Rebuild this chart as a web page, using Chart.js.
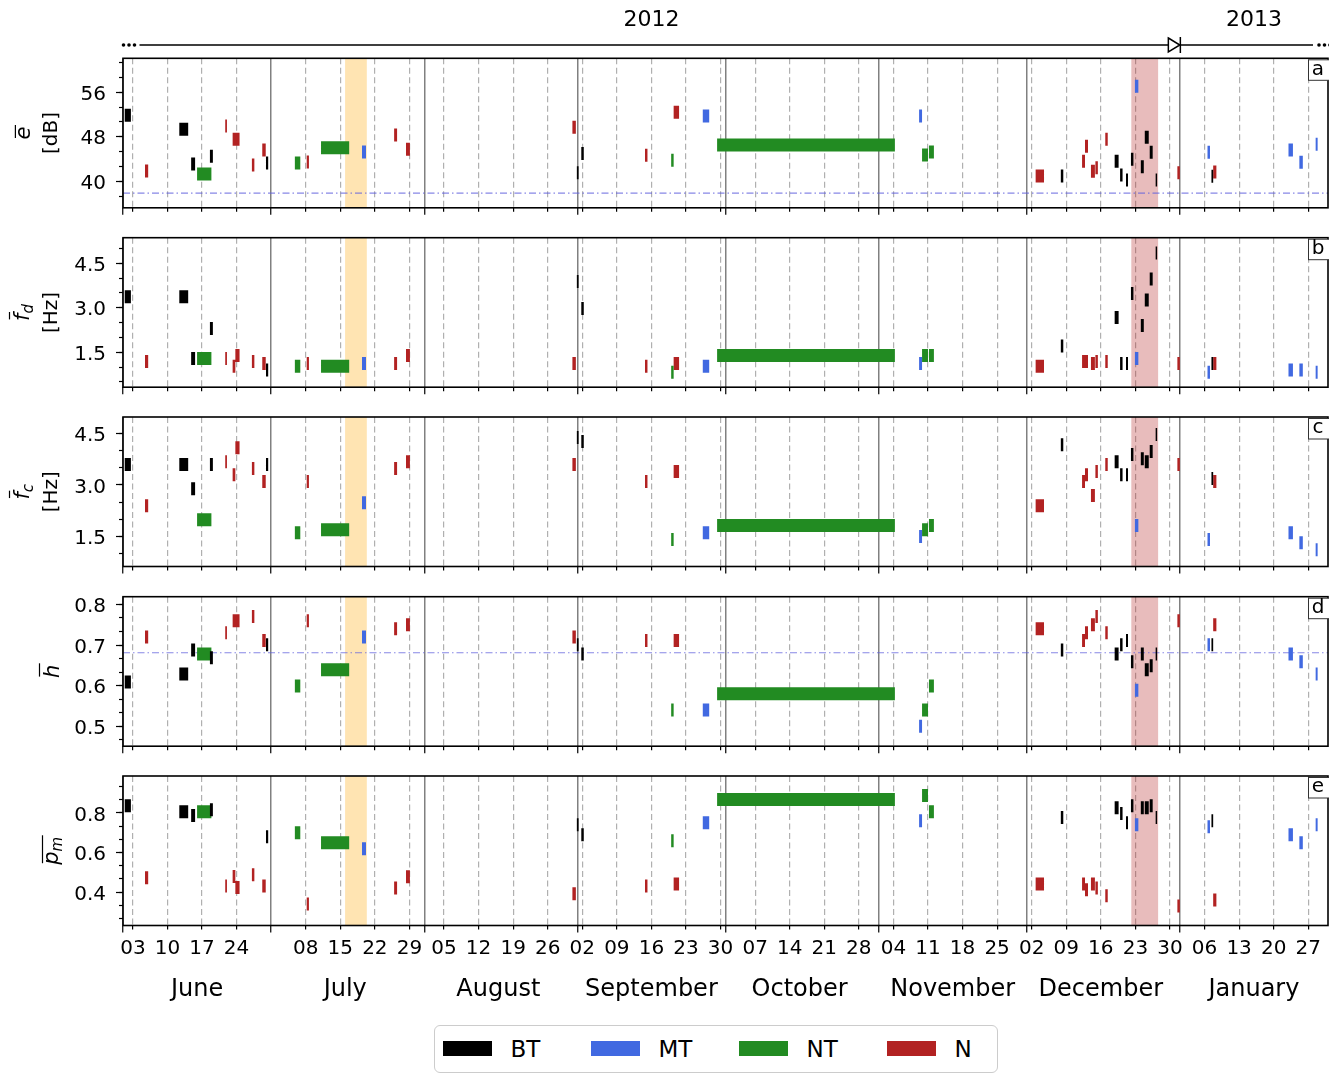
<!DOCTYPE html>
<html>
<head>
<meta charset="utf-8">
<script src="https://cdn.jsdelivr.net/npm/chart.js@4.4.1/dist/chart.umd.min.js"></script>
<style>
  body { margin:0; background:#fff; width:1329px; height:1074px; position:relative; overflow:hidden; font-family:"DejaVu Sans"; }
  canvas { position:absolute; left:0; }
  #legend { position:absolute; left:434px; top:1025px; width:564px; height:48px; box-sizing:border-box;
            border:1.5px solid #cccccc; border-radius:6px; background:#fff; }
  .item { position:absolute; top:0; height:45px; display:flex; align-items:center; font-size:23px; color:#000; }
  .sw { width:49px; height:15px; margin-right:19px; }
</style>
</head>
<body>
<canvas id="pa" width="1329" height="250" style="top:0px"></canvas>
<canvas id="pb" width="1329" height="215" style="top:207px"></canvas>
<canvas id="pc" width="1329" height="215" style="top:387px"></canvas>
<canvas id="pd" width="1329" height="215" style="top:566px"></canvas>
<canvas id="pe" width="1329" height="278" style="top:746px"></canvas>
<div id="legend"></div>
<script>
// days counted from 2012-06-01
const xMin = 0, xMax = 244;
const monthStarts = [0, 30, 61, 92, 122, 153, 183, 214];
const monthMids = [15, 45, 76, 107, 137, 168, 198, 229];
const monthNames = ['June', 'July', 'August', 'September', 'October', 'November', 'December', 'January'];
const weekDays = [2, 9, 16, 23, 37, 44, 51, 58, 65, 72, 79, 86, 93, 100, 107, 114, 121, 128, 135, 142, 149,
                  156, 163, 170, 177, 184, 191, 198, 205, 212, 219, 226, 233, 240];
const weekLabels = ['03', '10', '17', '24', '08', '15', '22', '29', '05', '12', '19', '26', '02', '09', '16', '23', '30',
                    '07', '14', '21', '28', '04', '11', '18', '25', '02', '09', '16', '23', '30', '06', '13', '20', '27'];
const yearLabels = ['2012', '2013'];
const yearMids = [107, 229];
const yearBreak = 214;
const bandStart = [44.97, 204.17];
const bandEnd = [49.37, 209.6];

const categories = ['BT', 'MT', 'NT', 'N'];

// recording periods
const evStart = [0.35, 4.45, 11.4, 13.8, 15.0, 17.6, 20.7, 22.2, 22.75, 26.1, 28.2, 28.95, 34.8, 37.2, 40.1, 48.4,
  54.9, 57.3, 91.0, 91.9, 92.8, 105.7, 111.0, 111.5, 117.4, 120.3, 161.2, 161.8, 163.2, 184.8, 189.9, 194.2, 194.8,
  196.0, 196.9, 198.9, 200.8, 201.9, 203.1, 204.1, 204.9, 206.1, 206.9, 207.9, 209.1, 213.5, 219.6, 220.4, 220.75,
  236.0, 238.2, 241.5];
const evEnd = [1.6, 5.1, 13.2, 14.6, 17.9, 18.2, 21.05, 22.75, 23.6, 26.6, 28.9, 29.4, 35.9, 37.65, 45.8, 49.2,
  55.5, 58.1, 91.7, 92.25, 93.3, 106.2, 111.5, 112.6, 118.7, 156.3, 161.8, 163.0, 164.2, 186.5, 190.4, 194.8, 195.4,
  196.8, 197.4, 199.4, 201.6, 202.4, 203.5, 204.6, 205.6, 206.7, 207.7, 208.5, 209.4, 214.0, 220.1, 220.75, 221.4,
  236.9, 238.9, 241.9];
const evType = ['BT', 'N', 'BT', 'BT', 'NT', 'BT', 'N', 'N', 'N', 'N', 'N', 'BT', 'NT', 'N', 'NT', 'MT',
  'N', 'N', 'N', 'BT', 'BT', 'N', 'NT', 'N', 'MT', 'NT', 'MT', 'NT', 'NT', 'N', 'BT', 'N', 'N',
  'N', 'N', 'N', 'BT', 'BT', 'BT', 'BT', 'MT', 'BT', 'BT', 'BT', 'BT', 'N', 'MT', 'BT', 'N',
  'MT', 'MT', 'MT'];

const eVals = [51.85, 41.85, 49.34, 43.1, 41.3, 44.5, 49.9, 47.55, 47.55, 42.9, 45.6, 43.25, 43.25, 43.45, 46.0, 45.25,
  48.3, 45.75, 49.7, 41.5, 45.0, 44.65, 43.75, 52.4, 51.7, 46.5, 51.7, 44.7, 45.25, 40.95, 40.95, 43.6, 46.3,
  41.8, 42.4, 47.55, 43.6, 41.1, 40.2, 43.95, 57.05, 42.6, 47.9, 45.2, 40.2, 41.5, 45.2, 40.9, 41.65,
  45.6, 43.4, 46.65];
const fdVals = [3.37, 1.19, 3.37, 1.29, 1.29, 2.30, 1.29, 1.03, 1.39, 1.19, 1.12, 0.90, 1.03, 1.12, 1.03, 1.12,
  1.12, 1.39, 1.12, 3.89, 2.98, 1.03, 0.82, 1.12, 1.03, 1.39, 1.12, 1.39, 1.39, 1.03, 1.71, 1.19, 1.19,
  1.12, 1.19, 1.19, 2.67, 1.12, 1.12, 3.48, 1.29, 2.40, 3.26, 3.97, 4.85, 1.12, 0.82, 1.12, 1.12,
  0.90, 0.90, 0.82];
const fcVals = [3.60, 2.39, 3.60, 2.89, 1.98, 3.60, 3.68, 3.30, 4.09, 3.48, 3.10, 3.60, 1.60, 3.10, 1.69, 2.48,
  3.48, 3.68, 3.60, 4.39, 4.27, 3.10, 1.40, 3.39, 1.60, 1.81, 1.49, 1.69, 1.81, 2.39, 4.18, 3.10, 3.30,
  2.69, 3.39, 3.60, 3.68, 3.30, 3.30, 3.89, 1.81, 3.77, 3.68, 3.98, 4.48, 3.60, 1.40, 3.19, 3.10,
  1.60, 1.31, 1.10];
const hVals = [0.609, 0.720, 0.629, 0.688, 0.678, 0.669, 0.730, 0.760, 0.760, 0.770, 0.711, 0.701, 0.599, 0.760, 0.639, 0.720,
  0.740, 0.750, 0.720, 0.701, 0.678, 0.711, 0.540, 0.711, 0.540, 0.580, 0.500, 0.540, 0.599, 0.740, 0.688, 0.711, 0.730,
  0.750, 0.770, 0.730, 0.678, 0.701, 0.711, 0.659, 0.589, 0.678, 0.639, 0.649, 0.678, 0.760, 0.701, 0.701, 0.750,
  0.678, 0.659, 0.629];
const pmVals = [0.836, 0.472, 0.806, 0.786, 0.806, 0.816, 0.431, 0.478, 0.423, 0.487, 0.431, 0.679, 0.700, 0.340, 0.649, 0.619,
  0.421, 0.477, 0.391, 0.740, 0.689, 0.431, 0.659, 0.441, 0.750, 0.867, 0.760, 0.887, 0.806, 0.441, 0.776, 0.441, 0.411,
  0.441, 0.421, 0.381, 0.826, 0.796, 0.750, 0.836, 0.740, 0.826, 0.826, 0.836, 0.776, 0.330, 0.730, 0.760, 0.360,
  0.689, 0.649, 0.740];

const eRef = 37.85;
const hRef = 0.681;

const typeColor = { BT: '#000000', MT: '#4169e1', NT: '#228b22', N: '#b22222' };
const bandColor = ['rgba(255,165,0,0.3)', 'rgba(178,34,34,0.3)'];

Chart.defaults.font.family = '"DejaVu Sans"';
Chart.defaults.font.size = 20;
Chart.defaults.color = '#000';

function segs(vals, type) {
  const pts = [];
  evType.forEach((t, i) => {
    if (t !== type || vals[i] == null) return;
    pts.push({x: evStart[i], y: vals[i]}, {x: evEnd[i], y: vals[i]}, {x: evEnd[i], y: null});
  });
  return pts;
}

function drawSym(ctx, bx, cy, sym, sub, overAll) {
  ctx.save();
  ctx.translate(bx, cy);
  ctx.rotate(-Math.PI / 2);
  ctx.textBaseline = 'alphabetic';
  ctx.textAlign = 'left';
  ctx.fillStyle = '#000';
  const big = 'italic 21px "DejaVu Sans"', small = 'italic 15px "DejaVu Sans"';
  ctx.font = big;
  const m = ctx.measureText(sym);
  ctx.font = small;
  const ws = sub ? ctx.measureText(sub).width : 0;
  const total = m.width + ws;
  const x0 = -total / 2;
  ctx.font = big;
  ctx.fillText(sym, x0, 0);
  if (sub) { ctx.font = small; ctx.fillText(sub, x0 + m.width, 4.5); }
  const oy = -m.actualBoundingBoxAscent - 3;
  ctx.strokeStyle = '#000';
  ctx.lineWidth = 1.2;
  ctx.beginPath();
  ctx.moveTo(x0 + 1.5, oy);
  ctx.lineTo(x0 + (overAll ? total : m.width) + 1.5, oy);
  ctx.stroke();
  ctx.restore();
}

function drawTimeline(chart) {
  const {ctx, chartArea: a, scales: {x}} = chart;
  const y = a.top - 13.3;
  const tip = x.getPixelForValue(yearBreak);
  ctx.save();
  ctx.strokeStyle = '#000';
  ctx.fillStyle = '#000';
  ctx.lineWidth = 1.5;
  [a.left + 0.5, a.left + 6, a.left + 11.5, a.right - 9, a.right - 3.5, a.right + 2].forEach(cx => {
    ctx.beginPath(); ctx.arc(cx, y, 1.8, 0, 2 * Math.PI); ctx.fill();
  });
  ctx.beginPath();
  ctx.moveTo(a.left + 16.5, y); ctx.lineTo(tip - 11.5, y);
  ctx.moveTo(tip, y); ctx.lineTo(a.right - 15, y);
  ctx.stroke();
  ctx.beginPath();
  ctx.moveTo(tip - 11.5, y - 7); ctx.lineTo(tip, y); ctx.lineTo(tip - 11.5, y + 7); ctx.closePath();
  ctx.fillStyle = '#fff'; ctx.fill(); ctx.stroke();
  ctx.beginPath(); ctx.moveTo(tip + 0.5, y - 8); ctx.lineTo(tip + 0.5, y + 8); ctx.stroke();
  ctx.fillStyle = '#000';
  ctx.font = '22px "DejaVu Sans"';
  ctx.textAlign = 'center';
  ctx.textBaseline = 'middle';
  yearLabels.forEach((t, i) => ctx.fillText(t, x.getPixelForValue(yearMids[i]), a.top - 38));
  ctx.restore();
}

function deco(p) {
  return {
    id: 'deco',
    beforeDatasetsDraw(chart) {
      const {ctx, chartArea: a, scales: {x}} = chart;
      ctx.save();
      bandStart.forEach((s, i) => {
        const x0 = x.getPixelForValue(s), x1 = x.getPixelForValue(bandEnd[i]);
        ctx.fillStyle = bandColor[i];
        ctx.fillRect(x0, a.top, x1 - x0, a.bottom - a.top);
      });
      ctx.restore();
    },
    afterDatasetsDraw(chart) {
      const {ctx, chartArea: a} = chart;
      ctx.save();
      ctx.strokeStyle = '#000';
      ctx.lineWidth = 1.6;
      ctx.strokeRect(a.left, a.top, a.right - a.left, a.bottom - a.top);
      // panel letter
      ctx.fillStyle = '#fff';
      ctx.strokeStyle = '#333';
      ctx.lineWidth = 1;
      ctx.fillRect(a.right - 19.5, a.top + 1.5, 30, 20.5);
      ctx.strokeRect(a.right - 19.5, a.top + 1.5, 30, 20.5);
      ctx.fillStyle = '#000';
      ctx.font = '20px "DejaVu Sans"';
      ctx.textAlign = 'center';
      ctx.textBaseline = 'middle';
      ctx.fillText(p.letter, a.right - 10, a.top + 11);
      ctx.restore();
    },
    afterDraw(chart) {
      const {ctx, chartArea: a} = chart;
      const cy = (a.top + a.bottom) / 2;
      drawSym(ctx, p.symX, cy, p.sym, p.sub, p.over);
      if (p.unit) {
        ctx.save();
        ctx.translate(p.unitX, cy);
        ctx.rotate(-Math.PI / 2);
        ctx.font = '20px "DejaVu Sans"';
        ctx.fillStyle = '#000';
        ctx.textAlign = 'center';
        ctx.textBaseline = 'alphabetic';
        ctx.fillText(p.unit, 0, 0);
        ctx.restore();
      }
      if (p.timeline) drawTimeline(chart);
    }
  };
}

function setTicks(list) {
  return s => { s.ticks = list.map(v => ({value: v})); };
}

function panel(id, p) {
  const datasets = categories.map(c => ({
    label: c,
    data: segs(p.vals, c),
    borderColor: typeColor[c],
    backgroundColor: typeColor[c],
    borderWidth: 13,
    borderCapStyle: 'butt',
    pointRadius: 0,
    spanGaps: false,
    fill: false,
    xAxisID: 'x',
    yAxisID: 'y'
  }));
  if (p.ref != null) {
    datasets.push({
      label: 'ref',
      data: [{x: xMin, y: p.ref}, {x: xMax, y: p.ref}],
      borderColor: 'rgba(95,95,220,0.75)',
      borderWidth: 1.2,
      borderDash: [7, 3, 1.5, 3],
      pointRadius: 0,
      fill: false,
      order: 10,
      xAxisID: 'x',
      yAxisID: 'y'
    });
  }
  const labelH = p.bottom ? 40 : 0;
  const scales = {
    x: {
      type: 'linear', axis: 'x', position: 'bottom', min: xMin, max: xMax, weight: 1,
      afterBuildTicks: setTicks(weekDays),
      afterFit: s => { s.height = labelH; },
      ticks: { display: !!p.bottom, autoSkip: false, maxRotation: 0, padding: 7,
               font: { size: 20 }, callback: (v, i) => weekLabels[i] },
      grid: { color: '#b0b0b0', lineWidth: 1.2, tickLength: 4, tickColor: '#000', tickWidth: 1.2 },
      border: { display: false, dash: [6, 3.5] }
    },
    xm: {
      type: 'linear', axis: 'x', position: 'bottom', min: xMin, max: xMax, weight: 0,
      afterBuildTicks: setTicks(monthStarts),
      afterFit: s => { s.height = 0; },
      ticks: { display: false, autoSkip: false },
      grid: { color: '#808080', lineWidth: 1.5, tickLength: 7, tickColor: '#000', tickWidth: 1.2 },
      border: { display: false }
    },
    y: {
      type: 'linear', axis: 'y', position: 'left', min: p.min, max: p.max, weight: 1,
      afterBuildTicks: setTicks(p.major),
      afterFit: s => { s.width = 123; },
      ticks: { autoSkip: false, padding: 10, labelOffset: 2.5, font: { size: 20 }, callback: v => v.toFixed(p.dec) },
      grid: { drawOnChartArea: false, tickLength: 7, tickColor: '#000', tickWidth: 1.2 },
      border: { display: false }
    },
    ym: {
      type: 'linear', axis: 'y', position: 'left', min: p.min, max: p.max, weight: 0,
      afterBuildTicks: setTicks(p.minor),
      afterFit: s => { s.width = 0; },
      ticks: { display: false, autoSkip: false },
      grid: { drawOnChartArea: false, tickLength: 4, tickColor: '#000', tickWidth: 1.2 },
      border: { display: false }
    }
  };
  if (p.bottom) {
    scales.xl = {
      type: 'linear', axis: 'x', position: 'bottom', min: xMin, max: xMax, weight: 2,
      afterBuildTicks: setTicks(monthMids),
      afterFit: s => { s.height = 40; },
      ticks: { autoSkip: false, maxRotation: 0, padding: 10, font: { size: 24 }, callback: (v, i) => monthNames[i] },
      grid: { display: false, drawTicks: false },
      border: { display: false }
    };
  }
  const canvas = document.getElementById(id);
  const axesH = p.bottom ? 80 : 0;
  return new Chart(canvas, {
    type: 'line',
    data: { datasets },
    options: {
      responsive: false,
      devicePixelRatio: 1,
      animation: false,
      events: [],
      layout: { autoPadding: false,
                padding: { top: p.padTop, bottom: canvas.height - p.padTop - 149.5 - axesH, left: 0, right: 1 } },
      plugins: { legend: { display: false }, tooltip: { enabled: false } },
      scales
    },
    plugins: [deco(p)]
  });
}

panel('pa', { vals: eVals, ref: eRef, min: 35.22, max: 62.09, major: [40, 48, 56],
  minor: [37.333, 40, 42.667, 45.333, 48, 50.667, 53.333, 56, 58.667, 61.333], dec: 0,
  padTop: 58.3, letter: 'a', sym: 'e', sub: '', symX: 30.4, unit: '[dB]', unitX: 56.5, timeline: true });
panel('pb', { vals: fdVals, min: 0.319, max: 5.366, major: [1.5, 3.0, 4.5],
  minor: [0.5, 1.0, 1.5, 2.0, 2.5, 3.0, 3.5, 4.0, 4.5, 5.0], dec: 1,
  padTop: 30.7, letter: 'b', sym: 'f', sub: 'd', symX: 28.5, unit: '[Hz]', unitX: 56.5 });
panel('pc', { vals: fcVals, min: 0.611, max: 4.99, major: [1.5, 3.0, 4.5],
  minor: [1.0, 1.5, 2.0, 2.5, 3.0, 3.5, 4.0, 4.5], dec: 1,
  padTop: 30, letter: 'c', sym: 'f', sub: 'c', symX: 28.5, unit: '[Hz]', unitX: 56.5 });
panel('pd', { vals: hVals, ref: hRef, min: 0.451, max: 0.819, major: [0.5, 0.6, 0.7, 0.8],
  minor: [0.4667, 0.5, 0.5333, 0.5667, 0.6, 0.6333, 0.6667, 0.7, 0.7333, 0.7667, 0.8], dec: 1,
  padTop: 30.7, letter: 'd', sym: 'h', sub: '', symX: 58.5 });
panel('pe', { vals: pmVals, min: 0.231, max: 0.986, major: [0.4, 0.6, 0.8],
  minor: [0.2667, 0.3333, 0.4, 0.4667, 0.5333, 0.6, 0.6667, 0.7333, 0.8, 0.8667, 0.9333], dec: 1,
  padTop: 30, letter: 'e', sym: 'p', sub: 'm', over: true, symX: 57.5, bottom: true });

// legend
const legend = document.getElementById('legend');
categories.forEach((c, i) => {
  const it = document.createElement('div');
  it.className = 'item';
  it.style.left = (7.5 + i * 148) + 'px';
  const sw = document.createElement('div');
  sw.className = 'sw';
  sw.style.background = typeColor[c];
  const tx = document.createElement('span');
  tx.textContent = c;
  it.appendChild(sw);
  it.appendChild(tx);
  legend.appendChild(it);
});
</script>
</body>
</html>
